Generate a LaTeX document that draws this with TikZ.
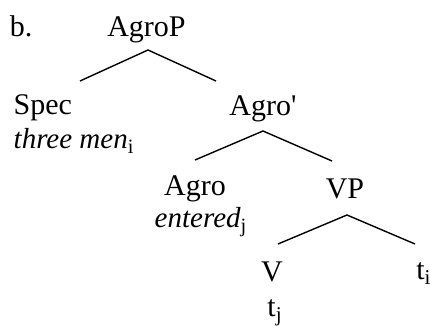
\documentclass[tikz,border=0pt]{standalone}
\usepackage{fontspec}
\setmainfont{Liberation Serif}
\newcommand{\idx}[1]{{\upshape\textsubscript{#1}}}

\begin{document}
\begin{tikzpicture}[x=0.5pt,y=-0.5pt,line width=0.7pt,
          cat/.style={inner sep=0pt,font=\fontsize{15}{18}\selectfont},
          gloss/.style={inner sep=0pt,font=\fontsize{14.5}{17}\selectfont\itshape}]
          \useasboundingbox (0,0) rectangle (430,326);
          % labels
          \node[cat,anchor=base](lbl) at (21,37){b.};
          \node[cat,anchor=base](agrop) at (146.5,37){AgroP};
          \node[cat,anchor=base west](spec) at (13,115){Spec};
          \node[gloss,anchor=base west](specg) at (13,149){three men\idx{i}};
          \node[cat,anchor=base](agrobar) at (263,116){Agro\textquotesingle};
          \node[cat,anchor=base](agro) at (195,196){Agro};
          \node[gloss,anchor=base](agrog) at (201,228){entered\idx{j}};
          \node[cat,anchor=base](vp) at (345,199){VP};
          \node[cat,anchor=base](v) at (272,282){V};
          \node[cat,anchor=base](tj) at (275,317){t\idx{j}};
          \node[cat,anchor=base](ti) at (424,280){t\idx{i}};
          % branch points
          \coordinate (agrop-foot) at (148,50);
          \coordinate (spec-top) at (80,81);
          \coordinate (agrobar-top) at (216,81);
          \coordinate (agrobar-foot) at (263,131);
          \coordinate (agro-top) at (195,160);
          \coordinate (vp-top) at (332,161);
          \coordinate (vp-foot) at (347,215);
          \coordinate (v-top) at (278,244);
          \coordinate (ti-top) at (415,244);
          \draw (spec-top)--(agrop-foot)--(agrobar-top);
          \draw (agro-top)--(agrobar-foot)--(vp-top);
          \draw (v-top)--(vp-foot)--(ti-top);
        \end{tikzpicture}
\end{document}
